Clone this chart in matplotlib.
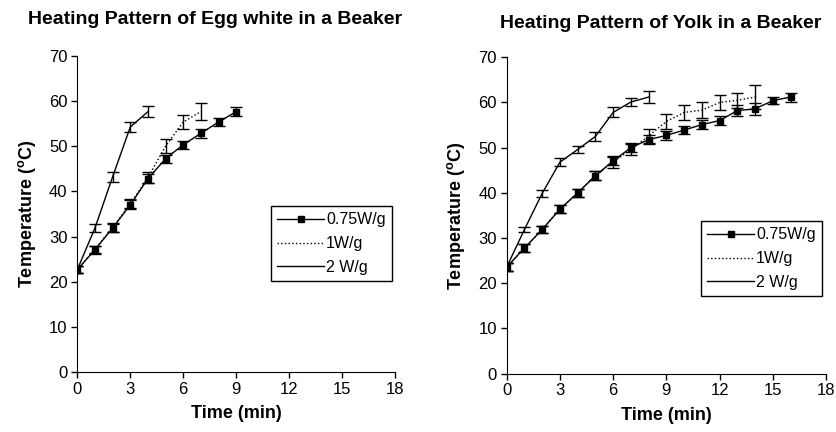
import matplotlib
matplotlib.use("Agg")
from matplotlib import pyplot as plt
import numpy as np

plt.rcParams['font.family'] = ['Liberation Sans', 'DejaVu Sans']
plt.rcParams['mathtext.fontset'] = 'custom'
plt.rcParams['mathtext.rm'] = 'Liberation Sans'
plt.rcParams['mathtext.bf'] = 'Liberation Sans:bold'

# Egg white data
white_t075 = [0, 1, 2, 3, 4, 5, 6, 7, 8, 9]
white_075 = [22.7, 27.1, 31.9, 37.0, 42.8, 47.2, 50.3, 52.8, 55.3, 57.6]
white_075_err = [0.8, 0.9, 0.9, 1.0, 1.0, 0.9, 0.9, 1.0, 0.8, 1.0]
white_t1 = [0, 1, 2, 3, 4, 5, 6, 7]
white_1 = [22.7, 27.2, 32.0, 37.2, 43.0, 50.0, 55.3, 57.6]
white_1_err = [0.8, 0.8, 0.9, 1.0, 1.2, 1.6, 1.6, 1.8]
white_t2 = [0, 1, 2, 3, 4]
white_2 = [22.7, 31.9, 43.2, 54.2, 57.6]
white_2_err = [0.8, 0.9, 1.1, 1.0, 1.2]

# Yolk data
yolk_t075 = list(range(17))
yolk_075 = [23.6, 27.8, 31.9, 36.4, 40.0, 43.8, 47.1, 50.0, 51.8, 52.7,
            53.9, 55.1, 56.0, 58.2, 58.6, 60.4, 61.2]
yolk_075_err = [0.8, 0.8, 0.8, 0.9, 0.9, 1.0, 1.0, 1.0, 1.0, 1.0,
                0.9, 1.0, 0.9, 1.3, 1.3, 0.8, 1.0]
yolk_t1 = list(range(15))
yolk_1 = [23.6, 27.8, 31.9, 36.4, 40.0, 43.8, 46.8, 49.6, 52.6, 55.8,
          57.8, 58.3, 60.0, 60.5, 61.2]
yolk_1_err = [0.8, 0.8, 0.8, 0.9, 0.9, 1.0, 1.2, 1.3, 1.5, 1.6,
              1.6, 1.8, 1.7, 1.7, 2.6]
yolk_t2 = [0, 1, 2, 3, 4, 5, 6, 7, 8]
yolk_2 = [23.6, 31.9, 39.9, 46.8, 49.6, 52.5, 57.8, 60.1, 61.2]
yolk_2_err = [0.8, 0.6, 0.8, 0.9, 0.8, 1.0, 1.1, 0.9, 1.3]

labels = ['0.75W/g', '1W/g', '2 W/g']
titles = ['Heating Pattern of Egg white in a Beaker',
          'Heating Pattern of Yolk in a Beaker']

fig = plt.figure(figsize=(8.37, 4.32), dpi=100)
ax1 = fig.add_axes([0.0924, 0.1382, 0.3796, 0.7333])
ax2 = fig.add_axes([0.6054, 0.135, 0.3815, 0.7324])

panels = [
    (ax1, white_t075, white_075, white_075_err, white_t1, white_1, white_1_err,
     white_t2, white_2, white_2_err, (271, 206)),
    (ax2, yolk_t075, yolk_075, yolk_075_err, yolk_t1, yolk_1, yolk_1_err,
     yolk_t2, yolk_2, yolk_2_err, (701, 221)),
]

eb = dict(ecolor='black', elinewidth=1.0, capsize=4.5, capthick=1.0)

for ax, t0, v0, e0, t1, v1, e1, t2, v2, e2, leg_pos in panels:
    h0 = ax.errorbar(t0, v0, yerr=e0, color='black', lw=1.0, marker='s',
                     markersize=3.8, label=labels[0], zorder=3, **eb)
    h1 = ax.errorbar(t1, v1, yerr=e1, color='black', lw=1.0, ls=':',
                     label=labels[1], zorder=2, **eb)
    h2 = ax.errorbar(t2, v2, yerr=e2, color='black', lw=1.0, ls='-',
                     label=labels[2], zorder=2, **eb)

    ax.set_xlim(0, 18)
    ax.set_ylim(0, 70)
    ax.set_xticks(np.arange(0, 19, 3))
    ax.set_yticks(np.arange(0, 71, 10))
    ax.spines['top'].set_visible(False)
    ax.spines['right'].set_visible(False)
    ax.tick_params(direction='out', length=4, width=1, labelsize=12,
                   pad=3)
    ax.set_xlabel('Time (min)', fontsize=13, fontweight='bold', labelpad=6)
    ax.set_ylabel(r'Temperature ($^\mathbf{o}$C)', fontsize=13,
                  fontweight='bold', labelpad=8)

    handles = [h0[0], h1[0], h2[0]]
    leg = ax.legend(handles, labels, loc='upper left',
                    bbox_to_anchor=(leg_pos[0] / 837, 1 - leg_pos[1] / 432),
                    bbox_transform=fig.transFigure, fancybox=False,
                    edgecolor='black', framealpha=1, fontsize=11.5,
                    handlelength=2.9, handletextpad=0.15, borderpad=0.4,
                    labelspacing=0.55, borderaxespad=0)
    leg.get_frame().set_linewidth(1.0)

fig.text(215 / 837, 1 - 19 / 432, titles[0], ha='center', va='center',
         fontsize=14, fontweight='bold')
fig.text(661 / 837, 1 - 23 / 432, titles[1], ha='center', va='center',
         fontsize=14, fontweight='bold')

fig.savefig('out.png', dpi=100)
